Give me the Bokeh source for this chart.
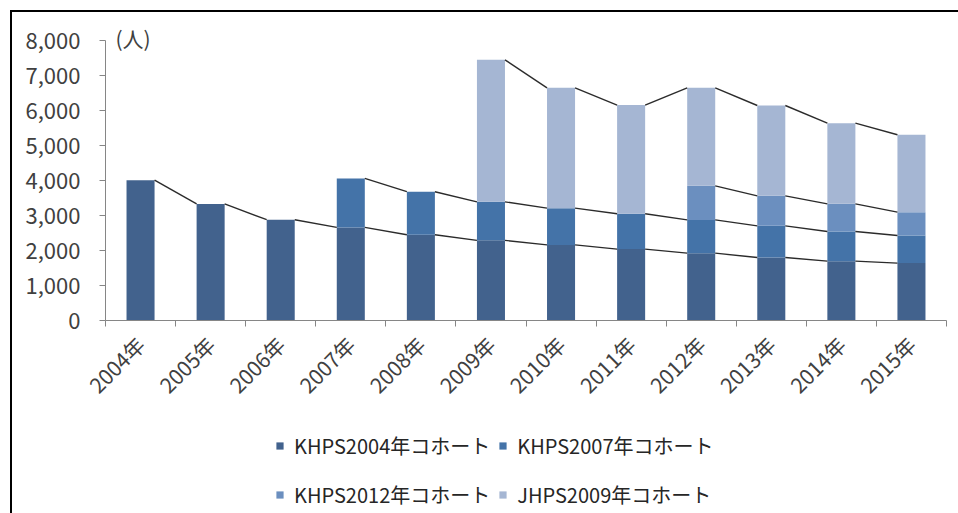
import math
from bokeh.plotting import figure
from bokeh.layouts import column
from bokeh.models import Range1d, FixedTicker, NumeralTickFormatter, Legend, LegendItem
from bokeh.embed import file_html
from bokeh.resources import INLINE

# Survey years and respondents per cohort (None = cohort not yet started)
years = ["2004年", "2005年", "2006年", "2007年", "2008年", "2009年",
         "2010年", "2011年", "2012年", "2013年", "2014年", "2015年"]
khps2004 = [4010, 3330, 2880, 2660, 2450, 2290, 2160, 2040, 1925, 1800, 1695, 1640]
khps2007 = [None, None, None, 1400, 1230, 1100, 1050, 1010, 950, 905, 848, 790]
khps2012 = [None, None, None, None, None, None, None, None, 972, 857, 790, 666]
jhps2009 = [None, None, None, None, None, 4058, 3438, 3104, 2800, 2581, 2305, 2210]

series_names = ["KHPS2004年コホート", "KHPS2007年コホート", "KHPS2012年コホート", "JHPS2009年コホート"]
series_vals = [khps2004, khps2007, khps2012, jhps2009]
colors = ["#42628D", "#4473A8", "#6B8FBF", "#A5B6D3"]
y_ticks = [0, 1000, 2000, 3000, 4000, 5000, 6000, 7000, 8000]
unit_label = "(人)"

FONT = "Noto Sans CJK JP"
TEXT = "#404040"
BAR_W = 0.4

n = len(years)
centers = [i + 0.5 for i in range(n)]

p = figure(frame_width=841, frame_height=280, output_backend="svg", toolbar_location=None,
           x_range=Range1d(0, n), y_range=Range1d(0, 8000),
           min_border_left=93, min_border_right=12, min_border_top=28, min_border_bottom=100)
p.outline_line_color = None
p.grid.visible = False

# Unit caption sits just above the value axis
p.title.text = unit_label
p.title.align = "left"
p.title.offset = 10
p.title.standoff = -25
p.title.text_font = FONT
p.title.text_font_size = "21px"
p.title.text_font_style = "normal"
p.title.text_color = TEXT

# Stacked bars, bottom to top
source = {"x": centers}
keys = []
for k, vals in enumerate(series_vals):
    key = f"s{k}"
    source[key] = [v if v is not None else 0 for v in vals]
    keys.append(key)
p.vbar_stack(keys, x="x", width=BAR_W, color=colors, line_color=None, source=source)

# Series lines joining the tops of each segment between neighbouring bars
x0s, y0s, x1s, y1s = [], [], [], []
for k, vals in enumerate(series_vals):
    for i in range(n - 1):
        if vals[i] is None or vals[i + 1] is None:
            continue
        top_a = sum((series_vals[j][i] or 0) for j in range(k + 1))
        top_b = sum((series_vals[j][i + 1] or 0) for j in range(k + 1))
        x0s.append(centers[i] + BAR_W / 2)
        y0s.append(top_a)
        x1s.append(centers[i + 1] - BAR_W / 2)
        y1s.append(top_b)
p.segment(x0=x0s, y0=y0s, x1=x1s, y1=y1s, line_color="#2b2b2b", line_width=1.4)

# Axes
p.yaxis.ticker = FixedTicker(ticks=y_ticks)
p.yaxis.formatter = NumeralTickFormatter(format="0,0")
p.yaxis.major_tick_in = 0
p.yaxis.major_tick_out = 6
p.yaxis.major_label_standoff = 19

p.xaxis.ticker = FixedTicker(ticks=centers, minor_ticks=list(range(n + 1)))
p.xaxis.major_label_overrides = {c: y for c, y in zip(centers, years)}
p.xaxis.major_tick_in = 0
p.xaxis.major_tick_out = 0
p.xaxis.minor_tick_in = 0
p.xaxis.minor_tick_out = 6
p.xaxis.major_label_orientation = math.pi / 4
p.xaxis.major_label_standoff = 14

for ax in (p.xaxis, p.yaxis):
    ax.axis_line_color = "#868686"
    ax.major_tick_line_color = "#868686"
    ax.minor_tick_line_color = "#868686"
    ax.major_label_text_font = FONT
    ax.major_label_text_color = TEXT
p.yaxis.major_label_text_font_size = "22px"
p.xaxis.major_label_text_font_size = "21px"
p.yaxis.minor_tick_line_color = None

# Legend strip underneath the chart; zero-height bars act as colour swatches
q = figure(width=946, height=93, output_backend="svg", toolbar_location=None,
           x_range=Range1d(0, 1), y_range=Range1d(0, 1), min_border=0)
q.axis.visible = False
q.grid.visible = False
q.outline_line_color = None
swatches = [q.vbar(x=[0.5], top=[0], bottom=[0], width=0.1, color=c, line_color=None) for c in colors]
legend = Legend(items=[LegendItem(label=nm, renderers=[r]) for nm, r in zip(series_names, swatches)],
                orientation="horizontal", ncols=2, location=(170, -2),
                glyph_width=9, glyph_height=9, label_standoff=10, spacing=8,
                label_height=41, padding=0, margin=0,
                label_text_font=FONT, label_text_font_size="20px", label_text_color="#262626",
                border_line_color=None, background_fill_alpha=0)
q.add_layout(legend)

layout = column(p, q, spacing=0)
layout.margin = (10, 0, 0, 10)
layout.styles = {"border-top": "2px solid #000000", "border-left": "2px solid #000000"}

open("out.html", "w").write(file_html(layout, INLINE))
